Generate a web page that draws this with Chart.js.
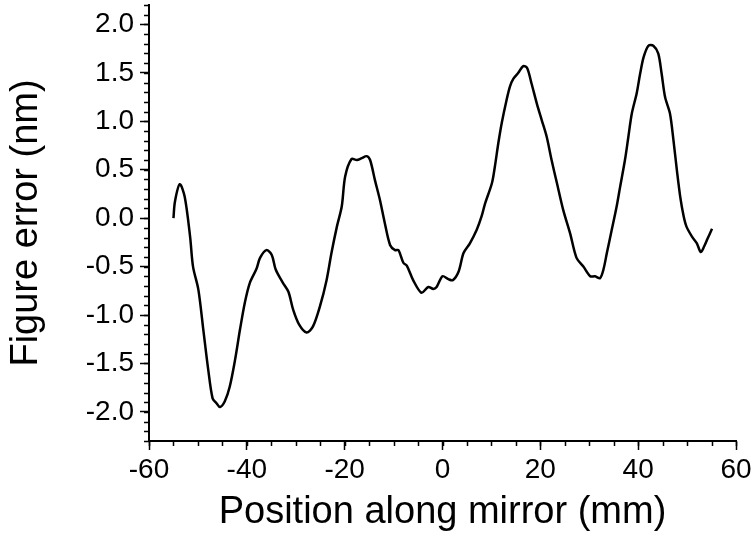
<!DOCTYPE html>
<html lang="en">
<head>
    <meta charset="UTF-8">
    <title>Figure error</title>
    <style>
        html, body {
            margin: 0;
            padding: 0;
            background: #fff;
        }
        .chart-container {
            width: 752px;
            height: 539px;
        }
    </style>
</head>
<body>
    <div class="chart-container">
        <canvas id="errorChart" width="752" height="539"></canvas>
    </div>
    <script src="https://cdn.jsdelivr.net/npm/chart.js@4.4.0/dist/chart.umd.min.js"></script>
    <script>
        // profile (mm, nm)
        const positions = [
            -55.0, -54.7, -53.7, -52.7, -51.6, -51.0, -49.9, -48.9, -47.9, -47.0,
            -46.2, -45.5, -44.5, -43.5, -42.4, -41.4, -40.4, -39.4, -38.0, -37.3,
            -36.0, -34.9, -34.1, -32.6, -31.5, -30.5, -29.3, -27.8, -26.5, -25.0,
            -23.7, -22.7, -21.6, -20.6, -19.9, -18.6, -17.5, -16.5, -15.5, -14.8,
            -13.8, -12.8, -11.8, -10.7, -9.7, -9.0, -8.0, -7.3, -6.0, -4.3,
            -2.9, -1.9, -1.2, 0.0, 1.2, 2.1, 3.3, 4.3, 5.6, 7.0,
            8.0, 8.7, 10.1, 10.7, 11.4, 12.1, 13.1, 13.8, 14.5, 15.5,
            16.5, 17.3, 18.2, 19.3, 20.3, 21.3, 22.3, 23.4, 24.7, 26.1,
            27.4, 28.8, 30.2, 31.2, 32.2, 32.9, 33.6, 34.6, 35.6, 36.3,
            37.3, 38.0, 38.7, 39.7, 40.4, 41.1, 42.1, 43.1, 44.1, 44.8,
            45.5, 46.5, 47.2, 47.9, 48.6, 49.3, 49.9, 51.0, 52.0, 52.8,
            53.5, 54.2, 55.1
        ];
        const figureError = [
            0.00, 0.17, 0.35, 0.22, -0.19, -0.50, -0.74, -1.15, -1.56, -1.86,
            -1.91, -1.95, -1.89, -1.74, -1.46, -1.15, -0.87, -0.67, -0.52, -0.41,
            -0.33, -0.38, -0.53, -0.67, -0.76, -0.95, -1.10, -1.18, -1.12, -0.90,
            -0.64, -0.36, -0.09, 0.12, 0.43, 0.61, 0.60, 0.62, 0.64, 0.60,
            0.39, 0.19, -0.05, -0.28, -0.33, -0.33, -0.46, -0.49, -0.64, -0.77,
            -0.71, -0.73, -0.71, -0.60, -0.63, -0.64, -0.55, -0.36, -0.26, -0.12,
            0.02, 0.15, 0.36, 0.53, 0.77, 0.98, 1.22, 1.36, 1.44, 1.50,
            1.57, 1.55, 1.39, 1.18, 1.01, 0.84, 0.60, 0.36, 0.08, -0.16,
            -0.41, -0.50, -0.60, -0.60, -0.62, -0.53, -0.36, -0.12, 0.12, 0.32,
            0.60, 0.84, 1.08, 1.29, 1.49, 1.66, 1.78, 1.78, 1.70, 1.49,
            1.25, 1.08, 0.81, 0.50, 0.22, 0.02, -0.09, -0.19, -0.26, -0.35,
            -0.29, -0.21, -0.11
        ];

        const xLimits = [-60, 60];
        const yLimits = [-2.3, 2.2];
        const xTickValues = [-60, -40, -20, 0, 20, 40, 60];
        const yTickValues = [-2.0, -1.5, -1.0, -0.5, 0.0, 0.5, 1.0, 1.5, 2.0];
        const xMinor = 5, yMinor = 0.1;

        const fontFamily = '"Liberation Sans", Arial, sans-serif';

        // small minor tick marks, drawn with the scales' own pixel mapping
        const minorTicks = {
            id: 'minorTicks',
            afterDraw(chart) {
                const ctx = chart.ctx;
                const xs = chart.scales.x;
                const ys = chart.scales.y;
                ctx.save();
                ctx.strokeStyle = '#000';
                ctx.lineWidth = 1.5;
                ctx.beginPath();
                for (let v = xLimits[0]; v <= xLimits[1] + 1e-9; v += xMinor) {
                    const px = Math.round(xs.getPixelForValue(v)) + 0.5;
                    ctx.moveTo(px, ys.bottom);
                    ctx.lineTo(px, ys.bottom + 5);
                }
                for (let i = 0; ; i++) {
                    const v = yLimits[0] + i * yMinor;
                    if (v > yLimits[1] + 1e-9) break;
                    const py = Math.round(ys.getPixelForValue(v)) + 0.5;
                    ctx.moveTo(xs.left, py);
                    ctx.lineTo(xs.left - 5, py);
                }
                ctx.stroke();
                ctx.restore();
            }
        };

        const points = positions.map((p, i) => ({ x: p, y: figureError[i] }));

        const ctx = document.getElementById('errorChart').getContext('2d');
        new Chart(ctx, {
            type: 'line',
            data: {
                datasets: [{
                    data: points,
                    borderColor: '#000',
                    borderWidth: 2.5,
                    pointRadius: 0,
                    tension: 0.3,
                    fill: false
                }]
            },
            options: {
                responsive: false,
                animation: false,
                layout: {
                    padding: { top: 5, right: 16, left: 0, bottom: 0 }
                },
                plugins: {
                    legend: { display: false },
                    tooltip: { enabled: false }
                },
                scales: {
                    x: {
                        type: 'linear',
                        min: xLimits[0],
                        max: xLimits[1],
                        afterBuildTicks: function(scale) {
                            scale.ticks = xTickValues.map(v => ({ value: v }));
                        },
                        afterFit: function(scale) {
                            scale.height = 98;
                            scale.paddingLeft = 0;
                            scale.paddingRight = 0;
                        },
                        grid: {
                            drawOnChartArea: false,
                            drawTicks: true,
                            tickLength: 9,
                            tickWidth: 1.5,
                            tickColor: '#000'
                        },
                        border: { color: '#000', width: 2 },
                        ticks: {
                            color: '#000',
                            padding: 3,
                            maxRotation: 0,
                            autoSkip: false,
                            font: { family: fontFamily, size: 28 }
                        },
                        title: {
                            display: true,
                            text: 'Position along mirror (mm)',
                            color: '#000',
                            padding: { top: 0 },
                            font: { family: fontFamily, size: 38 }
                        }
                    },
                    y: {
                        min: yLimits[0],
                        max: yLimits[1],
                        afterBuildTicks: function(scale) {
                            scale.ticks = yTickValues.map(v => ({ value: v }));
                        },
                        afterFit: function(scale) {
                            scale.width = 149;
                            scale.paddingTop = 0;
                            scale.paddingBottom = 0;
                        },
                        grid: {
                            drawOnChartArea: false,
                            drawTicks: true,
                            tickLength: 9,
                            tickWidth: 1.5,
                            tickColor: '#000'
                        },
                        border: { color: '#000', width: 2 },
                        ticks: {
                            color: '#000',
                            padding: 6,
                            autoSkip: false,
                            font: { family: fontFamily, size: 28 },
                            callback: function(value) {
                                return value.toFixed(1);
                            }
                        },
                        title: {
                            display: true,
                            text: 'Figure error (nm)',
                            color: '#000',
                            padding: { bottom: 4 },
                            font: { family: fontFamily, size: 38 }
                        }
                    }
                }
            },
            plugins: [minorTicks]
        });
    </script>
</body>
</html>
